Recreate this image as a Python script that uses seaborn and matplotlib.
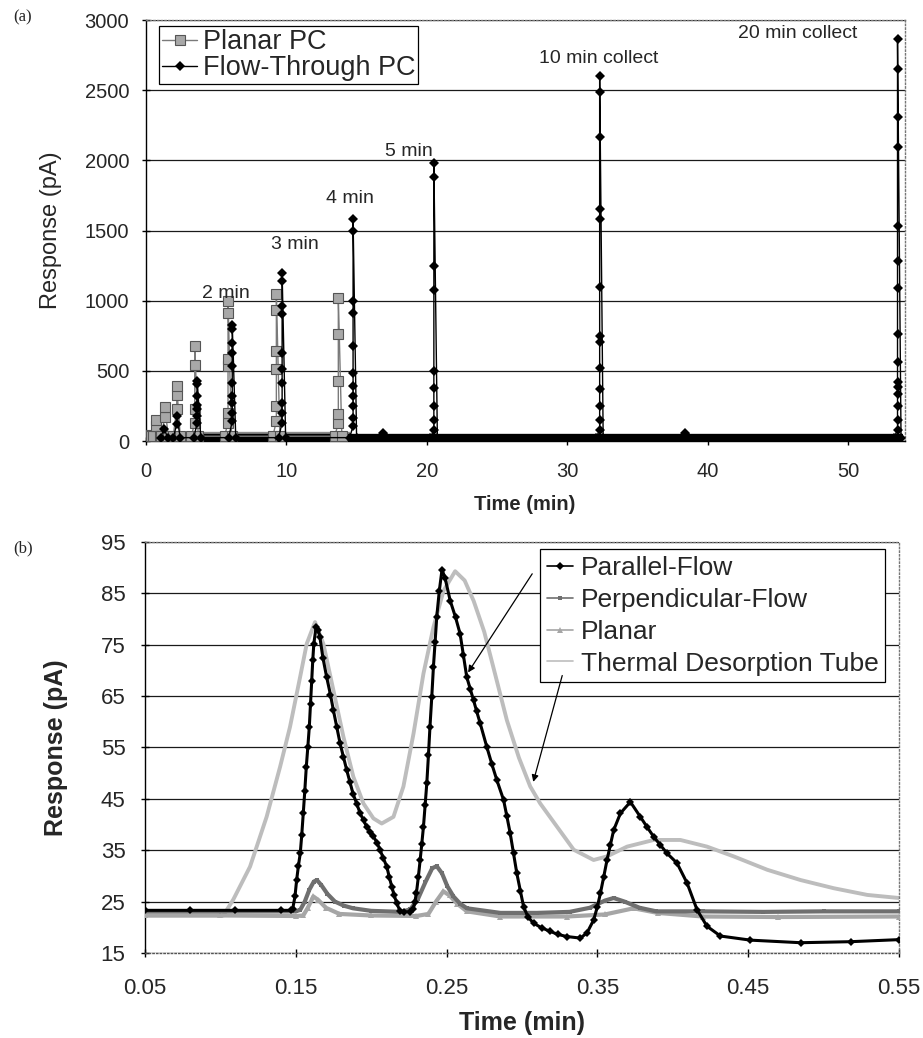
import numpy as np
import pandas as pd
import matplotlib
matplotlib.use("Agg")
import matplotlib.pyplot as plt
import seaborn as sns

# ---------------------------
# Data, panel (a): repeated collections
# ---------------------------
planar_pc_times = [0.15, 0.75, 1.35, 2.2, 3.48, 5.85, 9.29, 13.7]
planar_pc_peaks = [
    [45],
    [150, 110],
    [245, 170],
    [390, 330, 230],
    [677, 546, 226, 131],
    [998, 915, 582, 535, 202, 131],
    [1045, 938, 641, 511, 249, 143],
    [1022, 760, 428, 190, 131],
]
planar_pc_base = 35
planar_pc_end = 14.5

flow_pc_times = [1.3, 2.2, 3.66, 6.15, 9.7, 14.75, 16.9, 20.5, 32.3, 38.4, 53.5]
flow_pc_peaks = [
    [90],
    [180, 120],
    [428, 404, 321, 261, 226, 178, 131],
    [830, 796, 701, 630, 535, 416, 321, 273, 202, 143],
    [1200, 1140, 962, 903, 630, 511, 416, 273, 202, 131],
    [1580, 1500, 998, 915, 677, 487, 392, 321, 249, 166, 107],
    [60],
    [1985, 1880, 1250, 1080, 500, 380, 250, 150, 80],
    [2600, 2485, 2165, 1656, 1585, 1101, 750, 706, 523, 373, 250, 150, 80],
    [60],
    [2863, 2649, 2307, 2093, 1532, 1283, 1093, 760, 561, 418, 383, 333, 250, 150, 80],
]
flow_pc_base = 25
flow_pc_end = 53.9

collect_labels = ["2 min", "3 min", "4 min", "5 min", "10 min collect", "20 min collect"]
collect_label_t = [5.7, 10.6, 14.5, 18.7, 32.2, 46.4]
collect_label_v = [1055, 1404, 1732, 2062, 2730, 2907]

# ---------------------------
# Data, panel (b): single peaks
# ---------------------------
parallel_t = [0.050, 0.080, 0.110, 0.140, 0.147, 0.148, 0.1495, 0.1506, 0.1518, 0.153,
              0.154, 0.155, 0.156, 0.157, 0.158, 0.159, 0.1598, 0.1606, 0.1613, 0.162,
              0.1635, 0.165, 0.166, 0.168, 0.1705, 0.173, 0.175, 0.1772, 0.1794, 0.1816,
              0.1838, 0.186, 0.188, 0.1905, 0.1927, 0.195, 0.197, 0.1993, 0.2015, 0.204,
              0.206, 0.208, 0.2104, 0.212, 0.2137, 0.2153, 0.217, 0.2192, 0.222, 0.226,
              0.228, 0.229, 0.230, 0.2313, 0.2325, 0.2336, 0.2347, 0.2358, 0.2369, 0.238,
              0.239, 0.2402, 0.2413, 0.2424, 0.2435, 0.2452, 0.247, 0.249, 0.2524, 0.256,
              0.259, 0.2612, 0.2634, 0.2657, 0.2679, 0.2700, 0.2723, 0.2767, 0.280, 0.2834,
              0.2878, 0.290, 0.2922, 0.2944, 0.2966, 0.299, 0.3011, 0.304, 0.3077, 0.313,
              0.3188, 0.324, 0.3298, 0.3387, 0.3431, 0.3475, 0.350, 0.352, 0.3542, 0.3564,
              0.3586, 0.3608, 0.3653, 0.3719, 0.3785, 0.383, 0.3874, 0.3918, 0.3962, 0.4028,
              0.4095, 0.4161, 0.4227, 0.4316, 0.4515, 0.4847, 0.518, 0.550]
parallel_v = [23.3, 23.3, 23.3, 23.3, 23.3, 23.6, 26.0, 29.2, 32.0, 34.4,
              38.0, 42.2, 46.5, 51.2, 55.0, 59.0, 63.5, 68.0, 72.0, 75.2,
              78.4, 77.8, 76.5, 72.5, 68.7, 65.3, 62.2, 59.0, 55.8, 53.2,
              50.6, 48.2, 46.0, 44.0, 42.2, 40.8, 39.6, 38.6, 37.7, 36.4,
              35.0, 33.5, 31.8, 29.8, 27.9, 26.2, 24.7, 23.1, 23.0, 23.0,
              23.6, 25.0, 26.6, 29.8, 33.1, 36.3, 39.6, 43.8, 48.0, 53.5,
              59.0, 64.8, 70.7, 75.5, 80.4, 85.5, 89.6, 88.0, 83.6, 80.3,
              77.1, 72.9, 68.7, 66.4, 64.2, 62.0, 59.7, 55.1, 51.8, 48.6,
              44.8, 41.6, 38.3, 34.4, 30.5, 27.0, 24.0, 22.0, 20.8, 19.9,
              19.2, 18.6, 18.2, 17.9, 18.9, 21.4, 24.0, 26.6, 29.8, 33.1,
              36.0, 38.9, 42.2, 44.4, 41.5, 39.5, 37.6, 36.0, 34.4, 32.5,
              28.6, 23.4, 20.2, 18.3, 17.5, 17.0, 17.2, 17.6]

perpendicular_t = [0.050, 0.100, 0.150, 0.153, 0.156, 0.159, 0.162, 0.164, 0.167, 0.171,
                   0.176, 0.182, 0.188, 0.200, 0.220, 0.226, 0.231, 0.236, 0.2405, 0.2435,
                   0.247, 0.2505, 0.2546, 0.259, 0.2635, 0.2857, 0.310, 0.3316, 0.345, 0.355,
                   0.3608, 0.368, 0.378, 0.3891, 0.420, 0.460, 0.500, 0.550]
perpendicular_v = [23.1, 23.1, 23.1, 23.4, 25.0, 27.3, 28.9, 29.2, 28.2, 26.5,
                   25.0, 24.2, 23.7, 23.2, 23.0, 23.5, 25.5, 28.8, 31.5, 31.9,
                   30.5, 28.0, 26.0, 24.6, 23.7, 22.8, 22.8, 23.0, 23.8, 25.2,
                   25.7, 25.0, 23.8, 23.1, 23.1, 23.0, 23.1, 23.1]

planar_t = [0.050, 0.100, 0.150, 0.155, 0.158, 0.1617, 0.165, 0.170, 0.179, 0.200,
            0.230, 0.238, 0.243, 0.2479, 0.252, 0.257, 0.2635, 0.2857, 0.330, 0.355,
            0.374, 0.390, 0.420, 0.470, 0.550]
planar_v = [22.3, 22.3, 22.2, 22.3, 23.8, 26.0, 25.3, 23.8, 22.6, 22.3,
            22.2, 22.6, 25.0, 27.0, 26.2, 24.6, 23.1, 22.1, 22.1, 22.5,
            23.7, 22.8, 22.1, 22.0, 22.1]

thermal_t = [0.050, 0.080, 0.102, 0.1086, 0.1197, 0.1307, 0.1396, 0.1462, 0.1529, 0.1573,
             0.1628, 0.1683, 0.175, 0.1816, 0.1882, 0.1949, 0.2015, 0.207, 0.2148, 0.2214,
             0.2281, 0.2347, 0.2413, 0.248, 0.2557, 0.262, 0.268, 0.275, 0.282, 0.290,
             0.298, 0.3055, 0.3121, 0.3232, 0.3343, 0.3475, 0.3564, 0.3697, 0.3874, 0.405,
             0.4227, 0.4404, 0.4626, 0.4847, 0.5068, 0.529, 0.550]
thermal_v = [22.3, 22.3, 22.3, 25.4, 31.8, 41.5, 51.2, 59.0, 68.7, 75.2,
             79.4, 75.2, 66.1, 57.1, 49.3, 44.1, 41.2, 40.2, 41.5, 47.4,
             57.7, 69.4, 78.4, 85.5, 89.3, 87.5, 83.5, 77.5, 69.5, 60.3,
             53.0, 47.4, 44.1, 39.6, 35.1, 33.1, 33.8, 35.7, 37.0, 37.0,
             35.7, 33.8, 31.2, 29.2, 27.6, 26.3, 25.7]

# arrows from the legend to the curves (start, tip)
arrow_parallel = [(0.3068, 88.8), (0.2643, 69.6)]
arrow_thermal = [(0.3267, 69.0), (0.3075, 48.3)]


def spike_series(times, peaks, base):
    rows = []
    for t0, vals in zip(times, peaks):
        rows.append((t0 - 0.25, base))
        for v in sorted(vals):
            rows.append((t0, v))
        rows.append((t0 + 0.25, base))
    return pd.DataFrame(rows, columns=["time", "response"])


planar_pc = spike_series(planar_pc_times, planar_pc_peaks, planar_pc_base)
flow_pc = spike_series(flow_pc_times, flow_pc_peaks, flow_pc_base)

sns.set_theme(style="white")
plt.rcParams["font.family"] = ["Liberation Sans", "DejaVu Sans"]

fig = plt.figure(figsize=(9.23, 10.38), dpi=100)
ax1 = fig.add_axes([0.158, 0.575, 0.822, 0.4056])
ax2 = fig.add_axes([0.157, 0.0819, 0.817, 0.396])


def style_axes(ax, tick_size, bottom_dotted):
    ax.yaxis.grid(True, color="#1a1a1a", lw=0.9)
    ax.xaxis.grid(False)
    ax.set_axisbelow(True)
    for s in ["top", "right"]:
        ax.spines[s].set(linestyle=":", color="#777777", lw=1.0)
    ax.spines["left"].set(color="black", lw=1.0)
    if bottom_dotted:
        ax.spines["bottom"].set(linestyle=":", color="#555555", lw=1.0)
    else:
        ax.spines["bottom"].set(color="black", lw=1.0)
    ax.tick_params(axis="both", direction="inout", length=6, width=1,
                   color="black", labelsize=tick_size, bottom=True, left=True)


# ---- panel (a)
ax1.plot([0, planar_pc_end], [planar_pc_base, planar_pc_base], color="#8c8c8c", lw=6,
         solid_capstyle="butt", zorder=2)
ax1.plot([0, flow_pc_end], [flow_pc_base, flow_pc_base], color="black", lw=6,
         solid_capstyle="butt", zorder=2)
sns.lineplot(data=planar_pc, x="time", y="response", ax=ax1, sort=False, estimator=None,
             color="#7a7a7a", lw=1, marker="s", markersize=7, markerfacecolor="#a8a8a8",
             markeredgecolor="#555555", markeredgewidth=0.8, label="Planar PC", zorder=3)
sns.lineplot(data=flow_pc, x="time", y="response", ax=ax1, sort=False, estimator=None,
             color="black", lw=1, marker="D", markersize=5, markeredgewidth=0,
             label="Flow-Through PC", zorder=4)
for txt, t, v in zip(collect_labels, collect_label_t, collect_label_v):
    ax1.text(t, v, txt, ha="center", va="center", fontsize=14)

ax1.set_xlim(0, 54)
ax1.set_ylim(0, 3000)
ax1.set_xticks([0, 10, 20, 30, 40, 50])
ax1.set_yticks(range(0, 3001, 500))
style_axes(ax1, 14.5, False)
ax1.tick_params(axis="x", pad=12)
ax1.tick_params(axis="y", pad=9)
ax1.set_xlabel("Time (min)", fontsize=14.5, fontweight="bold")
ax1.set_ylabel("Response (pA)", fontsize=17)
ax1.xaxis.set_label_coords(0.5, -0.128)
ax1.yaxis.set_label_coords(-0.111, 0.5)
leg1 = ax1.legend(loc="upper left", bbox_to_anchor=(0.018, 0.985), fontsize=19.5,
                  frameon=True, fancybox=False, edgecolor="black", framealpha=1,
                  borderpad=0.1, labelspacing=0.0, handlelength=1.3, handletextpad=0.2,
                  borderaxespad=0)
leg1.get_frame().set_linewidth(0.9)

# ---- panel (b)
sns.lineplot(x=thermal_t, y=thermal_v, ax=ax2, sort=False, estimator=None,
             color="#bdbdbd", lw=2.8, label="Thermal Desorption Tube", zorder=2)
sns.lineplot(x=planar_t, y=planar_v, ax=ax2, sort=False, estimator=None,
             color="#a6a6a6", lw=3, marker="^", markersize=4, markeredgewidth=0,
             label="Planar", zorder=3)
sns.lineplot(x=perpendicular_t, y=perpendicular_v, ax=ax2, sort=False, estimator=None,
             color="#6f6f6f", lw=3, marker="s", markersize=3.5, markeredgewidth=0,
             label="Perpendicular-Flow", zorder=4)
sns.lineplot(x=parallel_t, y=parallel_v, ax=ax2, sort=False, estimator=None,
             color="black", lw=2.2, marker="D", markersize=4, markeredgewidth=0,
             label="Parallel-Flow", zorder=5)

for (start, tip) in [arrow_parallel, arrow_thermal]:
    ax2.annotate("", xy=tip, xytext=start, zorder=8,
                 arrowprops=dict(arrowstyle="-|>", color="black", lw=0.9,
                                 mutation_scale=10, shrinkA=0, shrinkB=0))

ax2.set_xlim(0.05, 0.55)
ax2.set_ylim(15, 95)
ax2.set_xticks(np.arange(0.05, 0.56, 0.1))
ax2.set_xticklabels(["0.05", "0.15", "0.25", "0.35", "0.45", "0.55"])
ax2.set_yticks(range(15, 96, 10))
style_axes(ax2, 16, True)
ax2.tick_params(axis="x", pad=15)
ax2.tick_params(axis="y", pad=11)
ax2.set_xlabel("Time (min)", fontsize=18, fontweight="bold")
ax2.set_ylabel("Response (pA)", fontsize=18, fontweight="bold")
ax2.xaxis.set_label_coords(0.5, -0.142)
ax2.yaxis.set_label_coords(-0.102, 0.5)

h, l = ax2.get_legend_handles_labels()
order = ["Parallel-Flow", "Perpendicular-Flow", "Planar", "Thermal Desorption Tube"]
hd = dict(zip(l, h))
leg2 = ax2.legend([hd[k] for k in order], order, loc="upper right",
                  bbox_to_anchor=(0.982, 0.982), fontsize=19, frameon=True,
                  fancybox=False, edgecolor="black", framealpha=1, borderpad=0.25,
                  labelspacing=0.3, handlelength=1.0, handletextpad=0.3, borderaxespad=0)
leg2.get_frame().set_linewidth(0.9)
leg2.set_zorder(6)
for line in leg2.get_lines():
    line.set_linewidth(1.2)

fig.text(0.014, 0.983, "(a)", family="Liberation Serif", fontsize=12, va="center")
fig.text(0.014, 0.472, "(b)", family="Liberation Serif", fontsize=12, va="center")

fig.savefig("out.png", dpi=100)
